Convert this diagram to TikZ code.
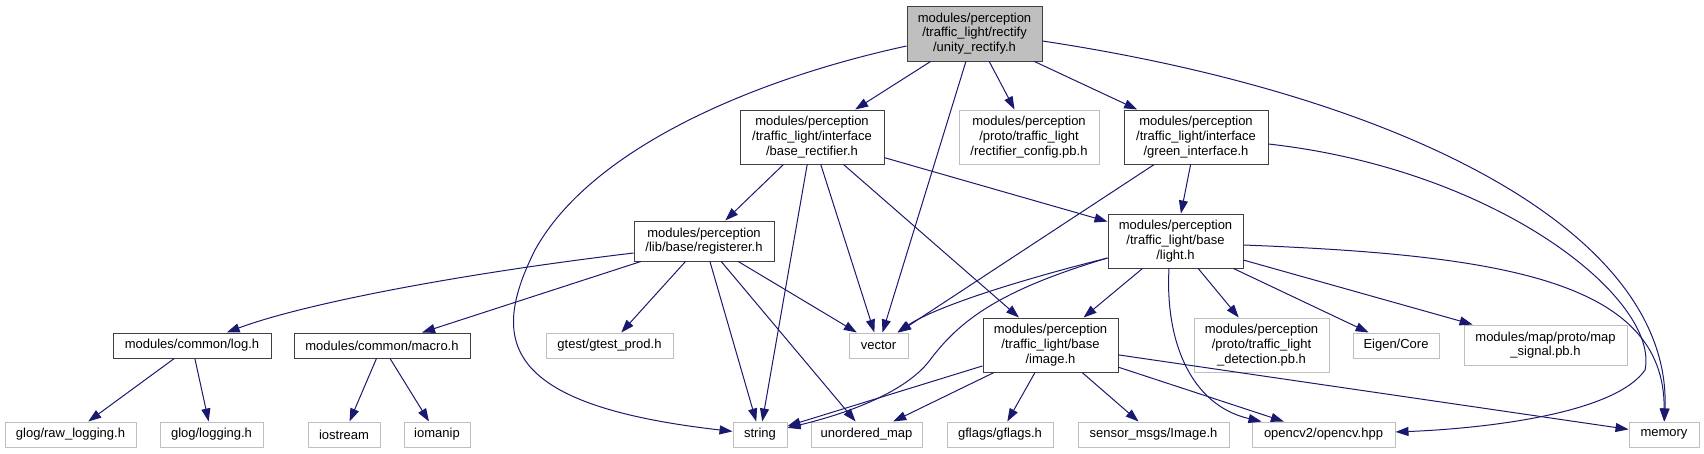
\documentclass[tikz,border=0pt]{standalone}
\usepackage{fontspec}
\setmainfont{Liberation Sans}
\usetikzlibrary{arrows.meta}
\definecolor{dblue}{HTML}{191970}
\definecolor{lgray}{HTML}{BFBFBF}
\tikzset{
  box/.style={draw=black!75, line width=1pt, fill=white, inner sep=0pt, align=center,
    font=\fontsize{13}{14.7}\selectfont},
  ext/.style={box, draw=lgray},
  sz/.style 2 args={minimum width=#1pt, minimum height=#2pt},
  dep/.style={draw=dblue, line width=1pt, -{Triangle[length=13pt,width=9pt]}}
}
\begin{document}
\begin{tikzpicture}[x=1pt,y=-1pt]
  \useasboundingbox (0,0) rectangle (1704,453);
  % rows of headers
  \node[box, fill=lgray, sz={135}{55}] (root) at (974.5,33.5) {modules/perception\\/traffic\_light/rectify\\/unity\_rectify.h};
  \node[box, sz={144}{54}] (baserect) at (812,137) {modules/perception\\/traffic\_light/interface\\/base\_rectifier.h};
  \node[ext, sz={140}{54}] (config) at (1029,137) {modules/perception\\/proto/traffic\_light\\/rectifier\_config.pb.h};
  \node[box, sz={144}{54}] (green) at (1196,137) {modules/perception\\/traffic\_light/interface\\/green\_interface.h};
  \node[box, sz={140}{40}] (registerer) at (704,241) {modules/perception\\/lib/base/registerer.h};
  \node[box, sz={135}{54}] (light) at (1175.5,241) {modules/perception\\/traffic\_light/base\\/light.h};
  \node[box, sz={158}{25}] (log) at (192,345.5) {modules/common/log.h};
  \node[box, sz={176}{25}] (macro) at (382,345.5) {modules/common/macro.h};
  \node[ext, sz={127}{25}] (gtest) at (609.5,345.5) {gtest/gtest\_prod.h};
  \node[ext, sz={59}{25}] (vector) at (878.5,345.5) {vector};
  \node[box, sz={135}{54}] (image) at (1050.5,345) {modules/perception\\/traffic\_light/base\\/image.h};
  \node[ext, sz={135}{54}] (detection) at (1261.5,345) {modules/perception\\/proto/traffic\_light\\\_detection.pb.h};
  \node[ext, sz={86}{25}] (eigen) at (1396,345.5) {Eigen/Core};
  \node[ext, sz={163}{40}] (mapsignal) at (1545.5,345) {modules/map/proto/map\\\_signal.pb.h};
  \node[ext, sz={131}{25}] (rawlog) at (70.5,434.5) {glog/raw\_logging.h};
  \node[ext, sz={103}{25}] (glog) at (211.5,434.5) {glog/logging.h};
  \node[ext, sz={72}{25}] (iostream) at (344,434.5) {iostream};
  \node[ext, sz={66}{25}] (iomanip) at (437,434.5) {iomanip};
  \node[ext, sz={54}{25}] (string) at (760,434.5) {string};
  \node[ext, sz={111}{25}] (umap) at (866.5,434.5) {unordered\_map};
  \node[ext, sz={106}{25}] (gflags) at (1000,434.5) {gflags/gflags.h};
  \node[ext, sz={151}{25}] (sensor) at (1153.5,434.5) {sensor\_msgs/Image.h};
  \node[ext, sz={143}{25}] (opencv) at (1323.5,434.5) {opencv2/opencv.hpp};
  \node[ext, sz={70}{25}] (memory) at (1664,434.5) {memory};
  % straight includes
  \foreach \a/\b in {root/baserect, root/config, root/green, root/vector,
    baserect/registerer, baserect/string, baserect/vector, baserect/image, baserect/light,
    green/light, green/vector,
    registerer/macro, registerer/gtest, registerer/string, registerer/umap, registerer/vector,
    light/image, light/detection, light/eigen, light/mapsignal,
    image/string, image/umap, image/gflags, image/sensor, image/opencv, image/memory,
    log/rawlog, log/glog, macro/iostream, macro/iomanip} {
    \draw[dep] (\a) -- (\b);
  }
  % curved includes
  \draw[dep] ([yshift=-12.5pt]root.west) .. controls (750,80) and (590,150) .. (535,250) .. controls (490,340) and (500,405) .. (string);
  \draw[dep] ([yshift=-7.5pt]root.east) .. controls (1400,95) and (1672,230) .. (memory);
  \draw[dep] ([yshift=-7pt]green.east) .. controls (1500,170) and (1660,300) .. (1645,370) .. controls (1610,420) and (1450,430) .. (opencv);
  \draw[dep] ([yshift=-4pt]light.east) .. controls (1500,255) and (1665,280) .. (memory);
  \draw[dep] ([xshift=-6.5pt]light.south) .. controls (1165,340) and (1190,405) .. ([xshift=-62pt]opencv.north);
  \draw[dep] ([yshift=-17pt]light.west) .. controls (1000,290) and (960,320) .. (930,360) .. controls (900,400) and (820,420) .. (string);
  \draw[dep] ([yshift=-17pt]light.west) .. controls (1000,285) and (930,310) .. (vector);
  \draw[dep] ([yshift=-12pt]registerer.west) .. controls (450,275) and (300,305) .. (log);
\end{tikzpicture}
\end{document}
